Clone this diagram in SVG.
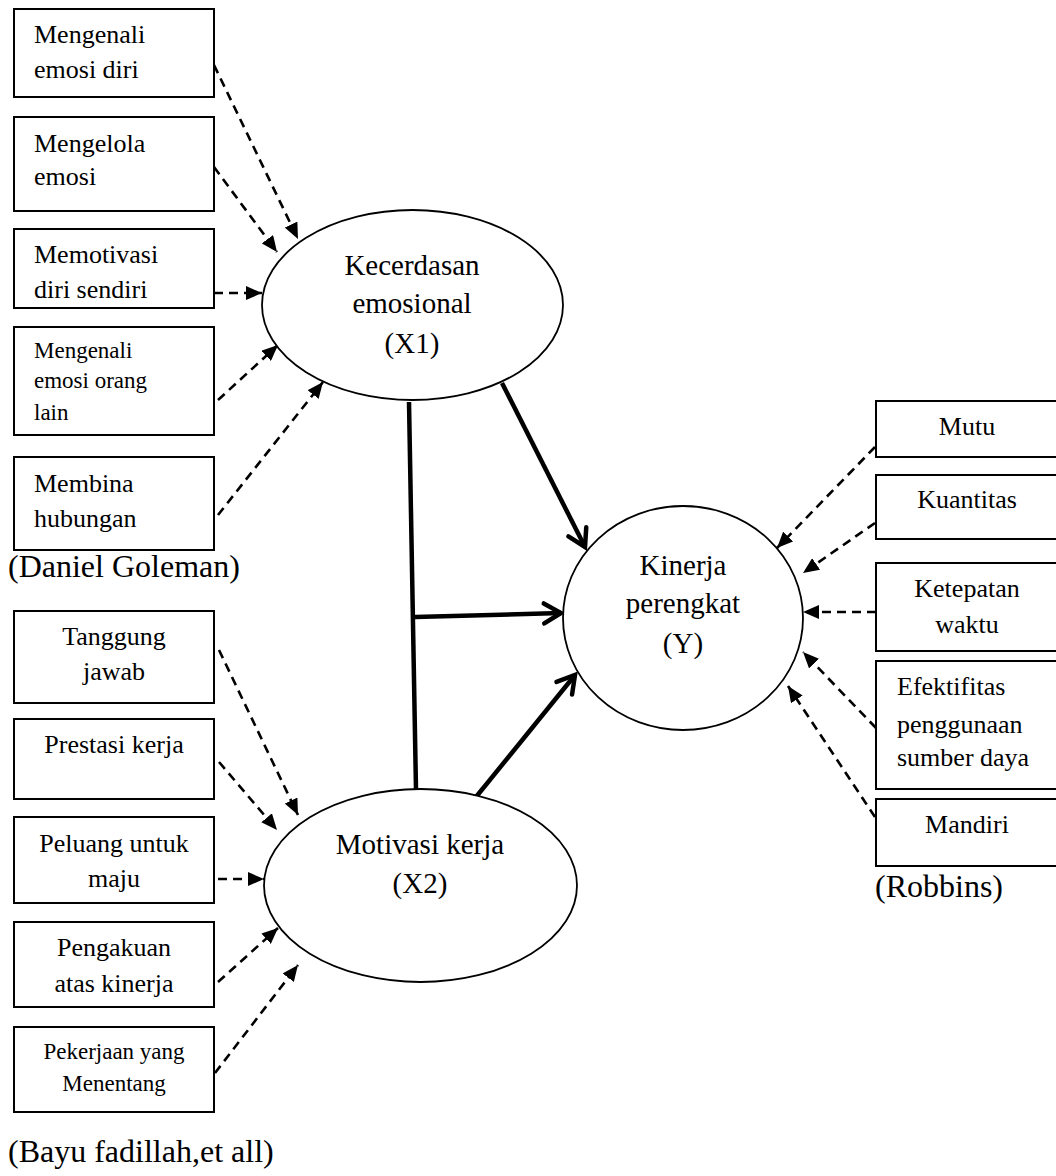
<svg xmlns="http://www.w3.org/2000/svg" width="1056" height="1176" viewBox="0 0 1056 1176">
<style>
  .box { fill: #fff; stroke: #000; stroke-width: 2; }
  .ell { fill: #fff; stroke: #000; stroke-width: 1.8; }
  text { font-family: "Liberation Serif", "Times New Roman", serif; fill: #000; }
  .t { font-size: 26px; }
  .ts { font-size: 23px; }
  .te { font-size: 29px; }
  .cap { font-size: 32px; }
  .c { text-anchor: middle; }
  .dash { stroke: #000; stroke-width: 2.6; stroke-dasharray: 9 6; fill: none; marker-end: url(#tri); }
  .solid { stroke: #000; stroke-width: 4.5; fill: none; }
  .arr { marker-end: url(#chev); }
</style>
<defs>
  <marker id="tri" markerUnits="userSpaceOnUse" markerWidth="16" markerHeight="14" refX="16" refY="7" orient="auto">
    <path d="M0,0 L16,7 L0,14 z" fill="#000"/>
  </marker>
  <marker id="chev" markerUnits="userSpaceOnUse" markerWidth="24" markerHeight="26" refX="20" refY="13" orient="auto" overflow="visible">
    <path d="M3,3 L20,13 L3,23" fill="none" stroke="#000" stroke-width="4.5" stroke-linecap="round" stroke-linejoin="miter"/>
  </marker>
</defs>
<rect width="1056" height="1176" fill="#fff"/>

<g id="connectors">
  <line class="dash" x1="214" y1="65" x2="298" y2="239"/>
  <line class="dash" x1="214" y1="167" x2="277" y2="252"/>
  <line class="dash" x1="214" y1="293" x2="262" y2="293"/>
  <line class="dash" x1="218" y1="400" x2="278" y2="345"/>
  <line class="dash" x1="218" y1="515" x2="323" y2="382"/>

  <line class="dash" x1="219" y1="650" x2="298" y2="815"/>
  <line class="dash" x1="219" y1="762" x2="277" y2="830"/>
  <line class="dash" x1="218" y1="879" x2="264" y2="879"/>
  <line class="dash" x1="218" y1="982" x2="278" y2="928"/>
  <line class="dash" x1="215" y1="1073" x2="298" y2="965"/>

  <line class="dash" x1="875" y1="447" x2="777" y2="548"/>
  <line class="dash" x1="875" y1="523" x2="803" y2="573"/>
  <line class="dash" x1="876" y1="612" x2="803" y2="612"/>
  <line class="dash" x1="876" y1="728" x2="803" y2="652"/>
  <line class="dash" x1="875" y1="817" x2="788" y2="686"/>

  <line class="solid arr" x1="502" y1="383" x2="585" y2="547"/>
  <line class="solid" x1="409" y1="402" x2="416" y2="790"/>
  <line class="solid arr" x1="415" y1="617" x2="561" y2="613"/>
  <line class="solid arr" x1="476" y1="797" x2="575" y2="675"/>
</g>

<g id="n-mengenali-emosi-diri">
  <rect class="box" x="14" y="9" width="200" height="88"/>
  <text class="t" x="34" y="43">Mengenali</text>
  <text class="t" x="34" y="78">emosi diri</text>
</g>
<g id="n-mengelola-emosi">
  <rect class="box" x="14" y="117" width="200" height="94"/>
  <text class="t" x="34" y="152">Mengelola</text>
  <text class="t" x="34" y="185">emosi</text>
</g>
<g id="n-memotivasi">
  <rect class="box" x="14" y="229" width="200" height="79"/>
  <text class="t" x="34" y="263">Memotivasi</text>
  <text class="t" x="34" y="298">diri sendiri</text>
</g>
<g id="n-mengenali-orang-lain">
  <rect class="box" x="14" y="327" width="200" height="108"/>
  <text class="ts" x="34" y="358">Mengenali</text>
  <text class="ts" x="34" y="388">emosi orang</text>
  <text class="ts" x="34" y="420">lain</text>
</g>
<g id="n-membina-hubungan">
  <rect class="box" x="14" y="457" width="200" height="93"/>
  <text class="t" x="34" y="492">Membina</text>
  <text class="t" x="34" y="527">hubungan</text>
</g>
<text class="cap" x="8" y="577">(Daniel Goleman)</text>

<g id="n-tanggung-jawab">
  <rect class="box" x="14" y="611" width="200" height="92"/>
  <text class="t c" x="114" y="645">Tanggung</text>
  <text class="t c" x="114" y="680">jawab</text>
</g>
<g id="n-prestasi-kerja">
  <rect class="box" x="14" y="719" width="200" height="80"/>
  <text class="t c" x="114" y="753">Prestasi kerja</text>
</g>
<g id="n-peluang">
  <rect class="box" x="14" y="817" width="200" height="86"/>
  <text class="t c" x="114" y="852">Peluang untuk</text>
  <text class="t c" x="114" y="887">maju</text>
</g>
<g id="n-pengakuan">
  <rect class="box" x="14" y="922" width="200" height="85"/>
  <text class="t c" x="114" y="956">Pengakuan</text>
  <text class="t c" x="114" y="992">atas kinerja</text>
</g>
<g id="n-pekerjaan">
  <rect class="box" x="14" y="1027" width="200" height="85"/>
  <text class="ts c" x="114" y="1059">Pekerjaan yang</text>
  <text class="ts c" x="114" y="1091">Menentang</text>
</g>
<text class="cap" x="8" y="1162">(Bayu fadillah,et all)</text>

<g id="n-x1">
  <ellipse class="ell" cx="412.5" cy="305" rx="150.5" ry="95"/>
  <text class="te c" x="412" y="275">Kecerdasan</text>
  <text class="te c" x="412" y="313">emosional</text>
  <text class="te c" x="412" y="353">(X1)</text>
</g>
<g id="n-x2">
  <ellipse class="ell" cx="420.5" cy="885.5" rx="156.5" ry="96.5"/>
  <text class="te c" x="420" y="854">Motivasi kerja</text>
  <text class="te c" x="420" y="893">(X2)</text>
</g>
<g id="n-y">
  <ellipse class="ell" cx="683" cy="618" rx="120" ry="112"/>
  <text class="te c" x="683" y="575">Kinerja</text>
  <text class="te c" x="683" y="613">perengkat</text>
  <text class="te c" x="683" y="653">(Y)</text>
</g>

<g id="n-mutu">
  <rect class="box" x="876" y="401" width="190" height="56"/>
  <text class="t c" x="967" y="435">Mutu</text>
</g>
<g id="n-kuantitas">
  <rect class="box" x="876" y="475" width="190" height="64"/>
  <text class="t c" x="967" y="508">Kuantitas</text>
</g>
<g id="n-ketepatan">
  <rect class="box" x="876" y="563" width="190" height="88"/>
  <text class="t c" x="967" y="597">Ketepatan</text>
  <text class="t c" x="967" y="633">waktu</text>
</g>
<g id="n-efektifitas">
  <rect class="box" x="876" y="661" width="190" height="128"/>
  <text class="t" x="897" y="695">Efektifitas</text>
  <text class="t" x="897" y="733">penggunaan</text>
  <text class="t" x="897" y="766">sumber daya</text>
</g>
<g id="n-mandiri">
  <rect class="box" x="876" y="799" width="190" height="67"/>
  <text class="t c" x="967" y="833">Mandiri</text>
</g>
<text class="cap" x="875" y="897">(Robbins)</text>
</svg>
